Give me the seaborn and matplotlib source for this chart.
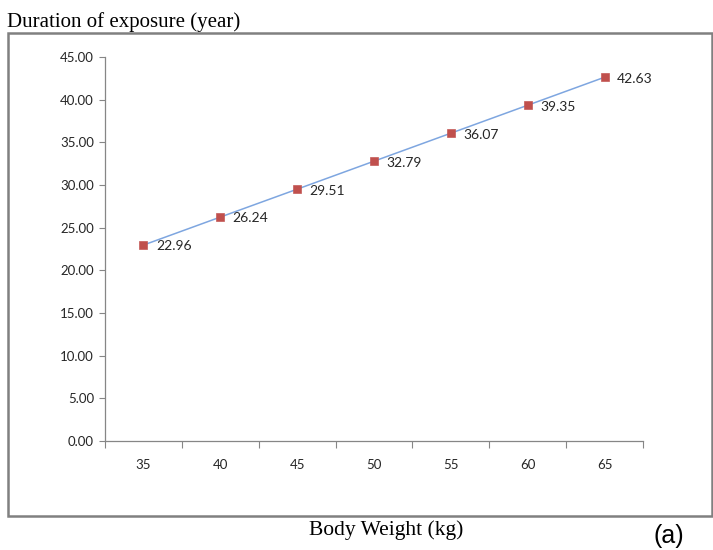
import numpy as np
import pandas as pd
import matplotlib.pyplot as plt
import seaborn as sns
from matplotlib.patches import Rectangle

# values
body_weight = [35, 40, 45, 50, 55, 60, 65]
duration = [22.96, 26.24, 29.51, 32.79, 36.07, 39.35, 42.63]
y_ticks = [0, 5, 10, 15, 20, 25, 30, 35, 40, 45]

df = pd.DataFrame({"Body Weight": body_weight, "Duration": duration})

sns.set_theme(style="white")
plt.rcParams["font.family"] = ["Lato", "DejaVu Sans"]

fig = plt.figure(figsize=(7.13, 5.5), dpi=100)
ax = fig.add_axes([105 / 713, 1 - 441 / 550, 538 / 713, 384 / 550])

sns.lineplot(data=df, x="Body Weight", y="Duration", ax=ax,
             color="#7EA6E0", linewidth=1.1)
sns.scatterplot(data=df, x="Body Weight", y="Duration", ax=ax,
                marker="s", s=30, color="#C0504D", edgecolor="#C0504D", zorder=3)

for x, y in zip(body_weight, duration):
    ax.annotate(f"{y:.2f}", (x, y), xytext=(9, -1), textcoords="offset points",
                ha="left", va="center", fontsize=10, color="#262626")

ax.set_xlim(32.5, 67.5)
ax.set_ylim(0, 45)
ax.set_yticks(y_ticks)
ax.set_yticklabels([f"{v:.2f}" for v in y_ticks])
ax.set_xticks(body_weight)
ax.set_xticklabels([str(v) for v in body_weight])
ax.set_xticks(np.arange(32.5, 68, 5), minor=True)

ax.tick_params(axis="x", which="major", length=0, pad=13, labelsize=9.5, colors="#262626")
ax.tick_params(axis="x", which="minor", length=5, width=0.8, color="#868686", direction="out", bottom=True)
ax.tick_params(axis="y", length=4, width=0.8, color="#868686", direction="out", pad=4,
               labelsize=9.5, labelcolor="#262626", left=True)

sns.despine(ax=ax)
for side in ["left", "bottom"]:
    ax.spines[side].set_color("#868686")
    ax.spines[side].set_linewidth(0.9)
ax.set_xlabel("")
ax.set_ylabel("")

# outer border box like the source
fig.patches.append(Rectangle((8 / 713, 1 - 516 / 550), 704 / 713, 483 / 550,
                             transform=fig.transFigure, fill=False,
                             edgecolor="#808080", linewidth=1.8))

fig.text(7 / 713, 1 - 27 / 550, "Duration of exposure (year)", ha="left", va="baseline",
         fontsize=15, family="Liberation Serif", color="black")
fig.text(386 / 713, 1 - 535 / 550, "Body Weight (kg)", ha="center", va="baseline",
         fontsize=15.5, family="Liberation Serif", color="black")
fig.text(669 / 713, 1 - 543 / 550, "(a)", ha="center", va="baseline",
         fontsize=18, family="Liberation Sans", color="black")

fig.savefig("out.png", dpi=100)
